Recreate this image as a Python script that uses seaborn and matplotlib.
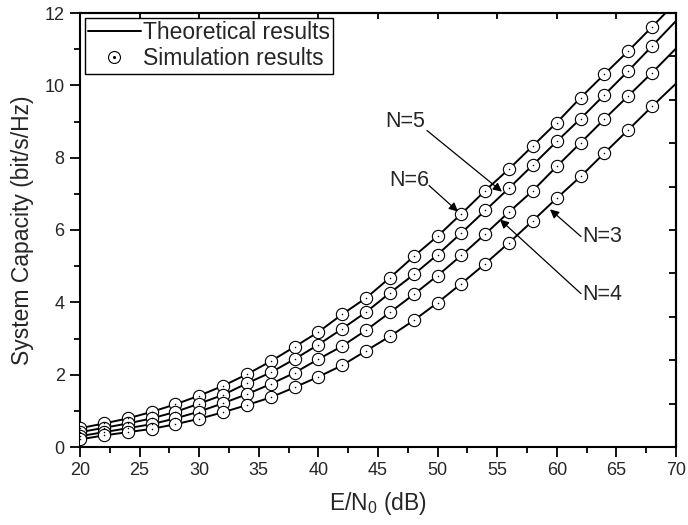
import numpy as np
import pandas as pd
import matplotlib
matplotlib.use("Agg")
import matplotlib.pyplot as plt
from matplotlib.lines import Line2D
from matplotlib.legend_handler import HandlerTuple
import seaborn as sns

# ---------------- data ----------------
snr_sim = [20, 22, 24, 26, 28, 30, 32, 34, 36, 38, 40, 42, 44, 46, 48,
           50, 52, 54, 56, 58, 60, 62, 64, 66, 68]
cap_n6 = [0.52, 0.65, 0.79, 0.97, 1.18, 1.42, 1.69, 2.01, 2.37, 2.77, 3.18, 3.67,
          4.12, 4.68, 5.27, 5.83, 6.45, 7.09, 7.69, 8.33, 8.97, 9.66, 10.31, 10.95, 11.62]
cap_n5 = [0.41, 0.53, 0.65, 0.79, 0.97, 1.20, 1.44, 1.76, 2.06, 2.43, 2.83, 3.27,
          3.73, 4.26, 4.77, 5.32, 5.92, 6.54, 7.16, 7.80, 8.45, 9.08, 9.74, 10.40, 11.09]
cap_n4 = [0.30, 0.41, 0.52, 0.63, 0.79, 0.98, 1.21, 1.46, 1.74, 2.05, 2.43, 2.79,
          3.23, 3.72, 4.22, 4.74, 5.30, 5.89, 6.50, 7.09, 7.76, 8.41, 9.07, 9.71, 10.35]
cap_n3 = [0.21, 0.32, 0.41, 0.50, 0.63, 0.78, 0.96, 1.16, 1.37, 1.65, 1.94, 2.26,
          2.66, 3.06, 3.50, 3.99, 4.52, 5.07, 5.65, 6.26, 6.88, 7.48, 8.13, 8.77, 9.42]
# theoretical curves continue to the right edge (70 dB)
snr_end = 70
cap_end = {6: 12.30, 5: 11.78, 4: 11.02, 3: 10.05}

n_values = [6, 5, 4, 3]
sim_series = {6: cap_n6, 5: cap_n5, 4: cap_n4, 3: cap_n3}

x_ticks = [20, 25, 30, 35, 40, 45, 50, 55, 60, 65, 70]
y_ticks = [0, 2, 4, 6, 8, 10, 12]

legend_labels = ["Theoretical results", "Simulation results"]
curve_labels = ["N=5", "N=6", "N=3", "N=4"]

# ---------------- tables ----------------
sim_rows, theo_rows = [], []
for n in n_values:
    for x, y in zip(snr_sim, sim_series[n]):
        sim_rows.append({"snr": x, "cap": y, "N": n})
        theo_rows.append({"snr": x, "cap": y, "N": n})
    theo_rows.append({"snr": snr_end, "cap": cap_end[n], "N": n})
sim_df = pd.DataFrame(sim_rows)
theo_df = pd.DataFrame(theo_rows)

# ---------------- figure ----------------
sns.set_style("ticks")
plt.rcParams["font.family"] = ["Liberation Sans", "DejaVu Sans"]
plt.rcParams["mathtext.fontset"] = "custom"
plt.rcParams["mathtext.rm"] = "Liberation Sans"

fig, ax = plt.subplots(figsize=(6.88, 5.25), dpi=100)
fig.subplots_adjust(left=80 / 688, right=676 / 688, bottom=1 - 447 / 525, top=1 - 13 / 525)

black = {n: "black" for n in n_values}
sns.lineplot(data=theo_df, x="snr", y="cap", hue="N", palette=black,
             linewidth=1.4, legend=False, ax=ax, zorder=2, errorbar=None)
sns.scatterplot(data=sim_df, x="snr", y="cap", hue="N", palette=black,
                marker="o", s=78, facecolor="white", linewidth=0.8,
                legend=False, ax=ax, zorder=3)
for coll in ax.collections:
    coll.set_facecolor("white")
    coll.set_edgecolor("black")
sns.scatterplot(data=sim_df, x="snr", y="cap", color="black", marker="o",
                s=1.2, linewidth=0, legend=False, ax=ax, zorder=4)

ax.set_xlim(20, 70)
ax.set_ylim(0, 12)
ax.set_xticks(x_ticks)
ax.set_yticks(y_ticks)
ax.set_xticks(np.array(x_ticks[:-1]) + 2.5, minor=True)
ax.set_yticks(np.array(y_ticks[:-1]) + 1, minor=True)
ax.tick_params(axis="both", which="major", direction="out", length=7, width=1.3,
               labelsize=13, color="black", pad=4)
ax.tick_params(axis="both", which="minor", direction="out", length=4, width=1.3,
               color="black")

for sp in ax.spines.values():
    sp.set_visible(True)
    sp.set_linewidth(1.5)
    sp.set_color("black")

# mirrored top / right axes with inward ticks
top = ax.secondary_xaxis("top")
top.set_xticks(x_ticks)
top.tick_params(direction="in", length=4, width=1.3, labeltop=False, color="black")
top.spines["top"].set_linewidth(1.5)
right = ax.secondary_yaxis("right")
right.set_yticks([i * 1.2 for i in range(11)])
right.tick_params(direction="in", length=5, width=1.3, labelright=False, color="black")
right.spines["right"].set_linewidth(1.5)

ax.set_xlabel(r"E/N$_0$ (dB)", fontsize=16.5, labelpad=8)
ax.set_ylabel("System Capacity (bit/s/Hz)", fontsize=16.5)
ax.yaxis.set_label_coords(-0.078, 0.5)

# legend
h_line = Line2D([], [], color="black", lw=1.4)
h_circ = Line2D([], [], marker="o", ls="", markersize=8.6, markerfacecolor="white",
                markeredgecolor="black", markeredgewidth=0.8)
h_dot = Line2D([], [], marker="o", ls="", markersize=1.2, color="black")
leg = ax.legend([h_line, (h_circ, h_dot)], legend_labels,
                handler_map={tuple: HandlerTuple(ndivide=1)},
                loc="upper left", bbox_to_anchor=(0.0, 1.0), borderaxespad=0.2,
                fontsize=16.5, frameon=True, fancybox=False, framealpha=1,
                edgecolor="black", handlelength=2.3, handletextpad=0.1,
                borderpad=0.15, labelspacing=0.15)
leg.get_frame().set_linewidth(1.0)

# curve annotations
arrow = dict(arrowstyle="-|>", color="black", lw=0.9, mutation_scale=13,
             shrinkA=0, shrinkB=0)
ann_text = {"N=5": (47.26, 9.0), "N=6": (47.6, 7.37), "N=3": (63.8, 5.82), "N=4": (63.8, 4.21)}
ann_tail = {"N=5": (49.11, 8.75), "N=6": (49.28, 7.23), "N=3": (62.03, 5.82), "N=4": (62.03, 4.24)}
ann_tip = {"N=5": (55.40, 7.06), "N=6": (51.71, 6.51), "N=3": (59.43, 6.57), "N=4": (55.23, 6.29)}
for lab in curve_labels:
    ax.text(*ann_text[lab], lab, fontsize=15.5, ha="center", va="center", zorder=6)
    ax.annotate("", xy=ann_tip[lab], xytext=ann_tail[lab], arrowprops=arrow, zorder=6)

fig.savefig("out.png", dpi=100)
